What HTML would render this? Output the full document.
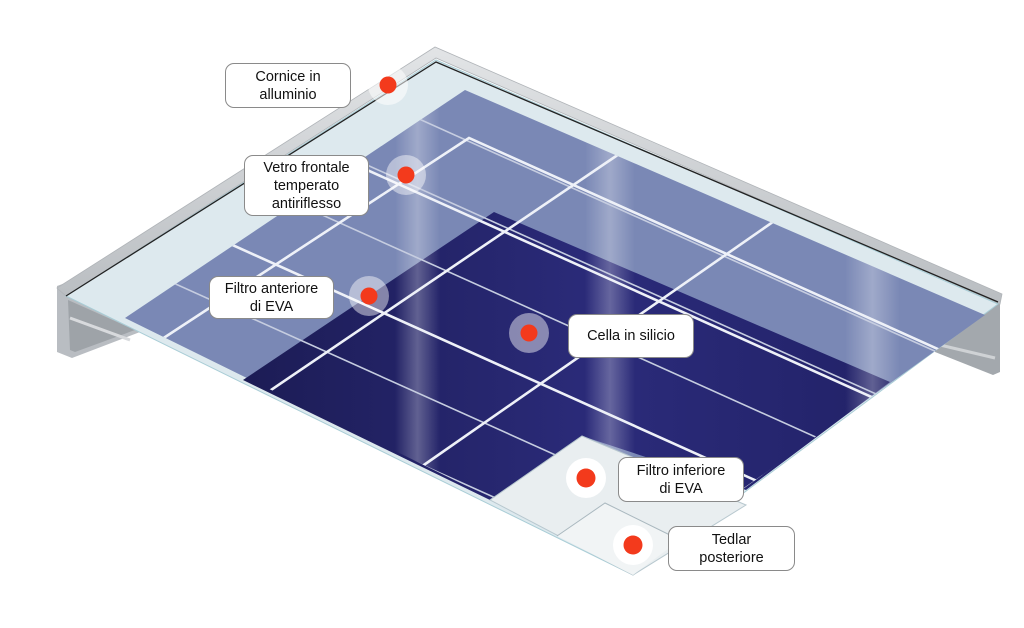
<!DOCTYPE html>
<html><head><meta charset="utf-8"><style>
html,body{margin:0;padding:0;background:#fff;width:1024px;height:628px;overflow:hidden}
svg{display:block}
.lbl{position:absolute;background:#fff;border:1.3px solid #8a8a8a;border-radius:9px;box-sizing:border-box;display:flex;align-items:center;justify-content:center;text-align:center;font-family:"Liberation Sans",sans-serif;font-size:14.5px;line-height:18px;color:#111}
</style></head><body>
<svg width="1024" height="628" style="position:absolute;left:0;top:0">
<defs>
<linearGradient id="dk" x1="0" y1="0" x2="1" y2="0">
<stop offset="0" stop-color="#1c1c55"/><stop offset="0.55" stop-color="#2b2b7a"/><stop offset="1" stop-color="#222268"/></linearGradient>
<linearGradient id="fr" x1="0" y1="0" x2="0" y2="1">
<stop offset="0" stop-color="#e2e4e6"/><stop offset="1" stop-color="#b9bdc1"/></linearGradient>
<linearGradient id="band" x1="0" y1="0" x2="1" y2="0">
<stop offset="0" stop-color="#fff" stop-opacity="0"/><stop offset="0.5" stop-color="#fff" stop-opacity="0.28"/><stop offset="1" stop-color="#fff" stop-opacity="0"/></linearGradient>
<clipPath id="cb"><polygon points="465,90 985,315 633,568 125,318"/></clipPath>
</defs>
<polygon points="57,286 68,282 140,322 140,332 72,358 57,352" fill="#b9bdc2"/>
<polygon points="68,300 135,330 75,352 70,350" fill="#9ea3a8"/>
<line x1="70" y1="318" x2="130" y2="340" stroke="#d8dadd" stroke-width="3"/>
<polygon points="935,330 990,300 1000,303 1000,372 993,375 935,352" fill="#a3a8ad"/>
<line x1="940" y1="345" x2="995" y2="358" stroke="#cfd2d5" stroke-width="3"/>
<polygon points="57,288 435,47 1002,294 1000,304 436,58 66,296" fill="url(#fr)" stroke="#b0b4b8" stroke-width="0.8"/>
<polygon points="66,296 436,60 998,304 633,575 125,325" fill="#dde9ee" stroke="#a9cdd6" stroke-width="1"/>
<polyline points="66,296 436,62 998,302" fill="none" stroke="#222" stroke-width="1.3"/>
<polygon points="465,90 985,315 633,568 125,318" fill="#7a88b5"/>
<polygon points="494,212 890,382 746,490 582,436 490,500 243,380" fill="url(#dk)"/>
<g clip-path="url(#cb)">
<rect x="395" y="80" width="45" height="420" fill="url(#band)"/>
<rect x="585" y="120" width="50" height="400" fill="url(#band)"/>
<rect x="845" y="200" width="55" height="300" fill="url(#band)"/>
</g>
<g clip-path="url(#cb)" stroke-linecap="butt" fill="none">
<g stroke="#c6cde0" stroke-width="1.6">
<line x1="100" y1="-24.6" x2="1100" y2="425.4"/>
<line x1="100" y1="44.8" x2="1100" y2="494.8"/>
<line x1="100" y1="115" x2="1100" y2="565"/>
<line x1="100" y1="250" x2="1100" y2="700"/>
<line x1="100" y1="320" x2="1100" y2="770"/>
</g>
<g stroke="#eef1f8" stroke-width="2.6">
<polyline points="130,360 469,138 1100,422"/>
<line x1="100" y1="49.8" x2="1100" y2="499.8"/>
<line x1="100" y1="185.4" x2="1100" y2="635.4"/>
<line x1="240" y1="411" x2="625" y2="150"/>
<line x1="421" y1="467" x2="790" y2="210"/>
<line x1="700" y1="520" x2="990" y2="318"/>
</g>
</g>
<polygon points="582,436 746,505 633,575 490,500" fill="#e9eef0" stroke="#b8c8cf" stroke-width="1"/>
<polygon points="557,536 605,503 680,540 633,575" fill="#f1f4f5"/>
<polyline points="557,536 605,503 680,540" fill="none" stroke="#aab8bf" stroke-width="1"/>
<g>
<circle cx="388" cy="85" r="20" fill="#fff" fill-opacity="0.55"/><circle cx="388" cy="85" r="8.5" fill="#f33a1c"/>
<circle cx="406" cy="175" r="20" fill="#fff" fill-opacity="0.45"/><circle cx="406" cy="175" r="8.5" fill="#f33a1c"/>
<circle cx="369" cy="296" r="20" fill="#fff" fill-opacity="0.45"/><circle cx="369" cy="296" r="8.5" fill="#f33a1c"/>
<circle cx="529" cy="333" r="20" fill="#fff" fill-opacity="0.45"/><circle cx="529" cy="333" r="8.5" fill="#f33a1c"/>
<circle cx="586" cy="478" r="20" fill="#fff"/><circle cx="586" cy="478" r="9.5" fill="#f33a1c"/>
<circle cx="633" cy="545" r="20" fill="#fff"/><circle cx="633" cy="545" r="9.5" fill="#f33a1c"/>
</g>
</svg>
<div class="lbl" style="left:225px;top:63px;width:126px;height:45px">Cornice in<br>alluminio</div>
<div class="lbl" style="left:244px;top:155px;width:125px;height:61px">Vetro frontale<br>temperato<br>antiriflesso</div>
<div class="lbl" style="left:209px;top:276px;width:125px;height:43px">Filtro anteriore<br>di EVA</div>
<div class="lbl" style="left:568px;top:314px;width:126px;height:44px">Cella in silicio</div>
<div class="lbl" style="left:618px;top:457px;width:126px;height:45px">Filtro inferiore<br>di EVA</div>
<div class="lbl" style="left:668px;top:526px;width:127px;height:45px">Tedlar<br>posteriore</div>
</body></html>
